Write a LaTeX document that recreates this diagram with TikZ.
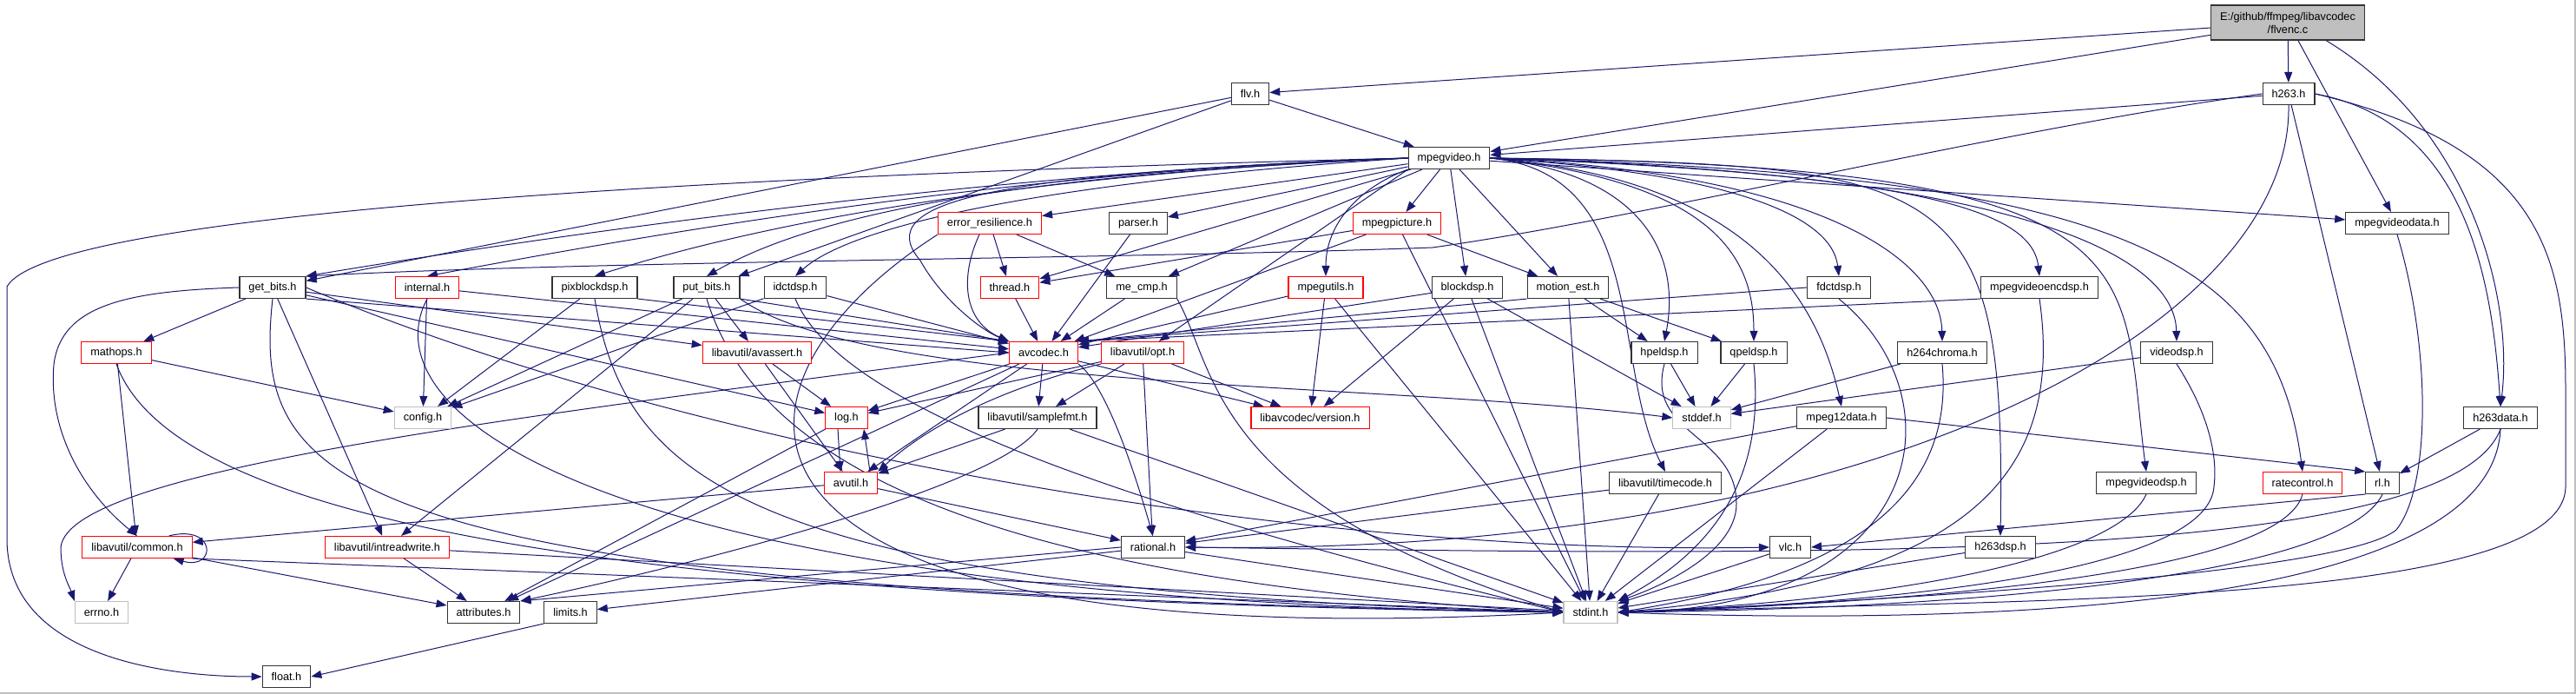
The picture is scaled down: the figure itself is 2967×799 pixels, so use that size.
\documentclass[tikz,border=0pt]{standalone}
\usepackage{fontspec}
\setsansfont{Liberation Sans}
\usetikzlibrary{arrows.meta, backgrounds}
\definecolor{incblue}{RGB}{25,25,112}
\definecolor{hdrred}{RGB}{255,0,0}
\definecolor{sysgray}{RGB}{191,191,191}
\definecolor{rootfill}{RGB}{191,191,191}
\tikzset{
  HD/.style={draw=black!80,fill=white,line width=1.1pt,rectangle,minimum height=25pt,inner xsep=10.5pt,inner ysep=0pt,font=\sffamily\fontsize{12.7}{15}\selectfont},
  HR/.style={HD,draw=hdrred},
  HS/.style={HD,draw=sysgray},
  RT/.style={HD,fill=rootfill,align=center,minimum height=40pt},
  INC/.style={-{Triangle[length=12pt,width=9pt]},incblue,line width=1pt},
}

\begin{document}
\begin{tikzpicture}[x=1pt,y=-1pt]
\useasboundingbox (0,0) rectangle (2967,799);
\draw[sysgray,line width=1.5pt] (0,798.2) -- (2966.2,798.2) -- (2966.2,0);

% Rows 0-2
\node[RT](flvenc)    at (2635,26){E:/github/ffmpeg/libavcodec\\/flvenc.c};
\node[HD](flv)       at (1440,108){flv.h};
\node[HD](h263)      at (2636,108){h263.h};
\node[HD](mpegvideo) at (1669,182){mpegvideo.h};

% Row 3
\node[HR](errres)  at (1140,257){error\_resilience.h};
\node[HD](parser)  at (1311,257){parser.h};
\node[HR](mpegpic) at (1609,257){mpegpicture.h};
\node[HD](mvdata)  at (2761,257){mpegvideodata.h};

% Row 4
\node[HD](getbits)   at ( 314,331){get\_bits.h};
\node[HR](internal)  at ( 492,331){internal.h};
\node[HD](pixblock)  at ( 685,331){pixblockdsp.h};
\node[HD](putbits)   at ( 814,331){put\_bits.h};
\node[HD](idct)      at ( 916,331){idctdsp.h};
\node[HR](thread)    at (1163,331){thread.h};
\node[HD](mecmp)     at (1315,331){me\_cmp.h};
\node[HR](mpegutils) at (1527,331){mpegutils.h};
\node[HD](blockdsp)  at (1690,331){blockdsp.h};
\node[HD](motionest) at (1806,331){motion\_est.h};
\node[HD](fdct)      at (2118,331){fdctdsp.h};
\node[HD](mvencdsp)  at (2349,331){mpegvideoencdsp.h};

% Row 5
\node[HR](mathops)    at ( 134,406){mathops.h};
\node[HR](avassert)   at ( 872,406){libavutil/avassert.h};
\node[HR](avcodec)    at (1202,406){avcodec.h};
\node[HR](opt)        at (1316,406){libavutil/opt.h};
\node[HD](hpel)       at (1917,406){hpeldsp.h};
\node[HD](qpel)       at (2020,406){qpeldsp.h};
\node[HD](h264chroma) at (2237,406){h264chroma.h};
\node[HD](videodsp)   at (2507,406){videodsp.h};

% Row 6
\node[HS](config)     at ( 487,481){config.h};
\node[HR](log)        at ( 975,481){log.h};
\node[HD](samplefmt)  at (1195,481){libavutil/samplefmt.h};
\node[HR](version)    at (1509,481){libavcodec/version.h};
\node[HS](stddef)     at (1960,481){stddef.h};
\node[HD](mpeg12data) at (2121,481){mpeg12data.h};
\node[HD](h263data)   at (2880,481){h263data.h};

% Row 7
\node[HR](avutil)      at ( 980,556){avutil.h};
\node[HD](timecode)    at (1918,556){libavutil/timecode.h};
\node[HD](mvdsp)       at (2472,556){mpegvideodsp.h};
\node[HR](ratecontrol) at (2652,556){ratecontrol.h};
\node[HD](rl)          at (2744,556){rl.h};

% Row 8
\node[HR](common)   at ( 158,630){libavutil/common.h};
\node[HR](intrw)    at ( 446,630){libavutil/intreadwrite.h};
\node[HD](rational) at (1328,630){rational.h};
\node[HD](vlc)      at (2062,630){vlc.h};
\node[HD](h263dsp)  at (2304,630){h263dsp.h};

% Rows 9-10
\node[HS](errno)      at ( 117,705){errno.h};
\node[HD](attributes) at ( 557,705){attributes.h};
\node[HD](limits)     at ( 657,705){limits.h};
\node[HS](stdint)     at (1832,705){stdint.h};
\node[HD](float)      at ( 330,779){float.h};

\begin{scope}[on background layer]
% flvenc.c
\draw[INC](flvenc) -- (flv);
\draw[INC](flvenc) -- (mpegvideo);
\draw[INC](flvenc) -- (h263);
\draw[INC](flvenc.-60) -- (mvdata);
\draw[INC](flvenc.-25) .. controls (2850,150) and (2895,350) .. (h263data.north);

% flv.h
\draw[INC](flv) -- (getbits);
\draw[INC](flv) -- (putbits);
\draw[INC](flv) -- (mpegvideo);

% h263.h
\draw[INC](h263) -- (mpegvideo);
\draw[INC](h263.west) .. controls (2300,150) and (1900,250) .. (1650,285) .. controls (1300,298) and (700,300) .. (getbits.north east);
\draw[INC](h263.south) .. controls (2640,380) and (2150,640) .. (rational.east);
\draw[INC](h263) -- (rl);
\draw[INC](h263.east) .. controls (2840,140) and (2870,320) .. (h263data.north);
\draw[INC](h263.east) .. controls (2930,170) and (2955,300) .. (2955,450) -- (2955,560) .. controls (2955,700) and (2300,690) .. (stdint.east);

% mpegvideo.h, left side
\draw[INC](mpegvideo.west) .. controls (900,200) and (60,240) .. (8,330) -- (8,620) .. controls (8,760) and (200,779) .. (float.west);
\draw[INC](mpegvideo.west) .. controls (1200,195) and (700,260) .. (getbits.north east);
\draw[INC](mpegvideo.west) .. controls (1200,195) and (800,260) .. (internal.north);
\draw[INC](mpegvideo.west) .. controls (1200,200) and (900,250) .. (pixblock.north);
\draw[INC](mpegvideo.west) .. controls (1200,200) and (950,240) .. (putbits.north);
\draw[INC](mpegvideo.west) .. controls (1200,210) and (980,260) .. (idct.north);
\draw[INC](mpegvideo) -- (errres);
\draw[INC](mpegvideo) -- (parser);
\draw[INC](mpegvideo) -- (thread);
\draw[INC](mpegvideo) -- (mecmp);
\draw[INC](mpegvideo.west) .. controls (1150,200) and (1000,230) .. (1060,300) .. controls (1085,345) and (1130,380) .. (avcodec.north west);
\draw[INC](mpegvideo.south west) -- (opt);
\draw[INC](mpegvideo.south west) .. controls (1565,216) and (1527,258) .. (mpegutils.north);
\draw[INC](mpegvideo) -- (mpegpic);
\draw[INC](mpegvideo) -- (blockdsp);
\draw[INC](mpegvideo) -- (motionest);

% mpegvideo.h, right side
\draw[INC](mpegvideo.east) .. controls (1900,200) and (1935,300) .. (hpel.north);
\draw[INC](mpegvideo.east) .. controls (1980,210) and (2020,300) .. (qpel.north);
\draw[INC](mpegvideo.east) .. controls (2000,200) and (2110,250) .. (fdct.north);
\draw[INC](mpegvideo.east) .. controls (2100,200) and (2235,300) .. (h264chroma.north);
\draw[INC](mpegvideo.east) .. controls (2200,200) and (2340,240) .. (mvencdsp.north);
\draw[INC](mpegvideo.east) .. controls (2350,200) and (2505,300) .. (videodsp.north);
\draw[INC](mpegvideo.east) .. controls (1900,200) and (1855,420) .. (timecode.north);
\draw[INC](mpegvideo.east) .. controls (2000,205) and (2090,330) .. (mpeg12data.north);
\draw[INC](mpegvideo.east) .. controls (2250,190) and (2310,200) .. (h263dsp.north);
\draw[INC](mpegvideo.east) .. controls (2500,190) and (2440,300) .. (mvdsp.north);
\draw[INC](mpegvideo.east) .. controls (2450,200) and (2620,300) .. (ratecontrol.north);
\draw[INC](mpegvideo) -- (mvdata);

% row 3
\draw[INC](errres.south west) .. controls (800,450) and (780,760) .. (stdint.west);
\draw[INC]([xshift=-12pt]errres.south) .. controls (1105,320) and (1110,370) .. (avcodec.north west);
\draw[INC](errres) -- (thread);
\draw[INC](errres) -- (mecmp);
\draw[INC](parser) -- (avcodec);
\draw[INC](mpegpic) -- (thread);
\draw[INC](mpegpic) -- (avcodec);
\draw[INC](mpegpic) -- (stdint);
\draw[INC](mpegpic) -- (motionest);
\draw[INC](mvdata.south) .. controls (2800,400) and (2800,560) .. (2760,610) .. controls (2700,660) and (2200,690) .. (stdint.east);

% row 4
\draw[INC](getbits.west) .. controls (150,335) and (70,350) .. (62,420) .. controls (55,500) and (100,570) .. (common.north);
\draw[INC](getbits) -- (mathops);
\draw[INC](getbits) -- (intrw);
\draw[INC](getbits.south) .. controls (290,560) and (380,680) .. (stdint.west);
\draw[INC](getbits) -- (log);
\draw[INC](getbits.south east) -- (avcodec.west);
\draw[INC](getbits) -- (avassert);
\draw[INC](getbits.east) .. controls (800,520) and (1500,640) .. (vlc.west);
\draw[INC](internal) -- (config);
\draw[INC](internal.south) .. controls (420,480) and (700,690) .. (stdint.west);
\draw[INC](internal) -- (avcodec);
\draw[INC](pixblock) -- (config);
\draw[INC](pixblock.south) .. controls (720,550) and (850,680) .. (stdint.west);
\draw[INC](pixblock.south east) -- (avcodec.north west);
\draw[INC](putbits) -- (config);
\draw[INC](putbits) -- (intrw);
\draw[INC](putbits.south) .. controls (880,560) and (1200,670) .. (stdint.west);
\draw[INC](putbits) -- (avassert);
\draw[INC](putbits.south east) .. controls (1000,450) and (1600,440) .. (stddef.west);
\draw[INC](putbits.south east) -- (avcodec.north west);
\draw[INC](idct) -- (config);
\draw[INC](idct.south) .. controls (960,450) and (1200,560) .. (stdint.west);
\draw[INC](idct) -- (avcodec);
\draw[INC](thread) -- (avcodec);
\draw[INC](mecmp) -- (avcodec);
\draw[INC](mecmp.south east) .. controls (1400,420) and (1390,580) .. (stdint.west);
\draw[INC](mpegutils) -- (avcodec);
\draw[INC](mpegutils) -- (version);
\draw[INC](mpegutils) -- (stdint);
\draw[INC](blockdsp) -- (avcodec);
\draw[INC](blockdsp) -- (version);
\draw[INC](blockdsp) -- (stdint);
\draw[INC](blockdsp) -- (stddef);
\draw[INC](motionest.south west) -- (avcodec.north east);
\draw[INC](motionest) -- (stdint);
\draw[INC](motionest) -- (hpel);
\draw[INC](motionest) -- (qpel);
\draw[INC](fdct.west) -- (avcodec.north east);
\draw[INC](fdct.south) .. controls (2260,460) and (2220,700) .. (stdint.east);
\draw[INC](mvencdsp.south west) -- (avcodec.north east);
\draw[INC](mvencdsp.south) .. controls (2380,560) and (2250,670) .. (stdint.east);

% row 5
\draw[INC](mathops) -- (config);
\draw[INC](mathops) -- (common);
\draw[INC](mathops.south) .. controls (200,600) and (700,690) .. (stdint.west);
\draw[INC](avassert) -- (avutil);
\draw[INC](avassert) -- (log);
\draw[INC](avcodec.west) .. controls (600,480) and (80,540) .. (70,630) .. controls (70,660) and (80,675) .. (errno.north west);
\draw[INC](avcodec) -- (log);
\draw[INC](avcodec) -- (avutil);
\draw[INC](avcodec) -- (samplefmt);
\draw[INC](avcodec.south east) .. controls (1270,440) and (1300,520) .. (rational.north);
\draw[INC](avcodec) -- (version);
\draw[INC](avcodec) -- (attributes);
\draw[INC](opt) -- (rational);
\draw[INC](opt) -- (samplefmt);
\draw[INC](opt) -- (log);
\draw[INC](opt.south west) .. controls (1180,440) and (1080,480) .. (avutil.north east);
\draw[INC](opt) -- (version);
\draw[INC](hpel) -- (stddef);
\draw[INC](hpel.south) .. controls (1895,500) and (2000,500) .. (2000,580) .. controls (2000,640) and (1900,680) .. (stdint.north east);
\draw[INC](qpel) -- (stddef);
\draw[INC](qpel.south) .. controls (2030,520) and (2000,620) .. (stdint.north east);
\draw[INC](h264chroma) -- (stddef);
\draw[INC](h264chroma.south) .. controls (2250,560) and (2150,660) .. (stdint.east);
\draw[INC](videodsp) -- (stddef);
\draw[INC](videodsp.south) .. controls (2540,470) and (2555,520) .. (2550,560) .. controls (2545,640) and (2300,690) .. (stdint.east);

% row 6
\draw[INC]([xshift=-10pt]log.south) -- ([xshift=-12pt]avutil.north);
\draw[INC](log) -- (attributes);
\draw[INC](samplefmt) -- (avutil);
\draw[INC](samplefmt.south) .. controls (1150,560) and (800,650) .. (attributes.north east);
\draw[INC](samplefmt) -- (stdint);
\draw[INC](mpeg12data) -- (rational);
\draw[INC](mpeg12data.east) -- (rl.north west);
\draw[INC](mpeg12data) -- (stdint);
\draw[INC](h263data) -- (rl);
\draw[INC](h263data.south) .. controls (2820,650) and (2100,640) .. (rational.east);
\draw[INC](h263data.south) .. controls (2870,700) and (2300,720) .. (stdint.east);

% row 7
\draw[INC]([xshift=22pt]avutil.north) -- ([xshift=20pt]log.south);
\draw[INC](avutil) -- (common);
\draw[INC](avutil) -- (rational);
\draw[INC](timecode) -- (rational);
\draw[INC](timecode) -- (stdint);
\draw[INC](mvdsp.south) .. controls (2440,640) and (2200,690) .. (stdint.east);
\draw[INC](ratecontrol.south) .. controls (2630,650) and (2300,690) .. (stdint.east);
\draw[INC](rl.south west) -- (vlc.east);
\draw[INC](rl.south) .. controls (2700,660) and (2300,700) .. (stdint.east);

% row 8
\draw[INC](common) -- (errno);
\draw[INC]([xshift=-27pt]common.north east) .. controls +(55,-14) and +(50,14) .. ([xshift=-22pt]common.south east);
\draw[INC](common) -- (attributes);
\draw[INC](common.south east) -- (stdint.west);
\draw[INC](intrw) -- (attributes);
\draw[INC](intrw) -- (stdint);
\draw[INC](rational.west) -- (attributes.north east);
\draw[INC](rational) -- (limits);
\draw[INC](rational) -- (stdint);
\draw[INC](vlc) -- (stdint);
\draw[INC](h263dsp) -- (stdint);

% row 9
\draw[INC](limits.south west) -- (float.east);
\end{scope}

\end{tikzpicture}
\end{document}
